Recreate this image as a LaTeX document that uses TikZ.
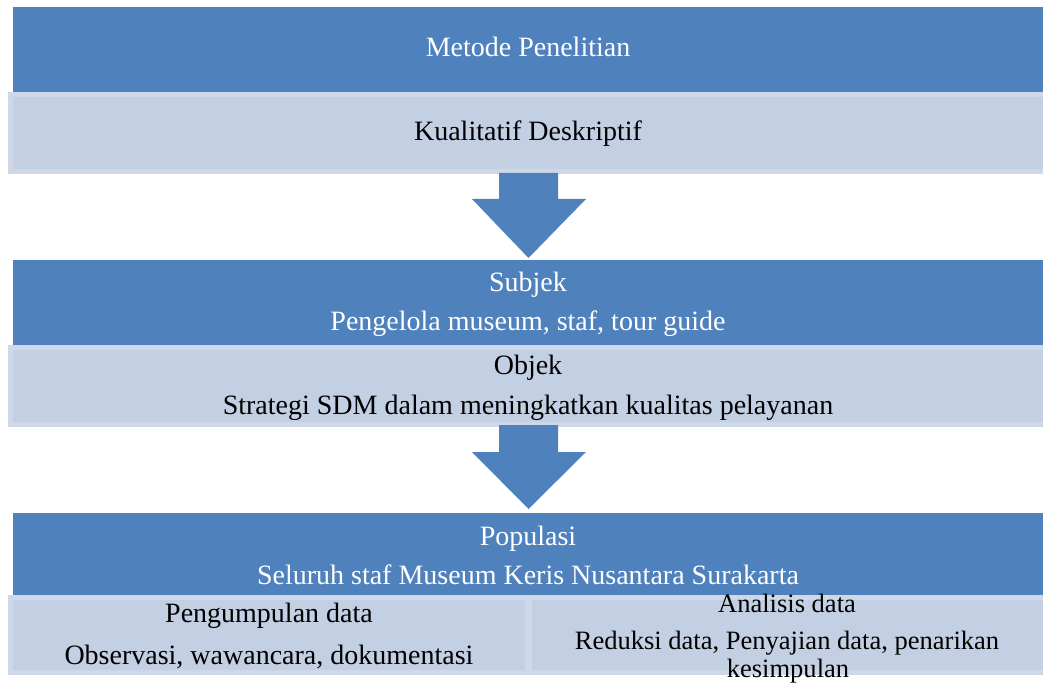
\documentclass[tikz,border=0pt]{standalone}
\usepackage{fontspec}
\setmainfont{Liberation Serif}
\definecolor{hdrblue}{HTML}{4F81BD}
\definecolor{lightfill}{HTML}{C3CFE2}
\definecolor{lightedge}{HTML}{CFD8E9}
\begin{document}
\begin{tikzpicture}[x=0.75pt,y=-0.75pt,
  txt/.style={anchor=base,inner sep=0pt,font=\fontsize{21}{25}\selectfont},
  wtxt/.style={txt,text=white},
  btxt/.style={txt,text=black},
  stxt/.style={btxt,font=\fontsize{19.9}{24}\selectfont},
  hdr/.style={fill=hdrblue,draw=none},
  arrowshape/.style={fill=hdrblue,draw=none}]
\useasboundingbox (0,0) rectangle (1043,695);
\clip (0,0) rectangle (1043,695);
\newcommand{\lightbox}[4]{%
  \fill[lightedge] (#1,#2) rectangle (#3,#4);
  \fill[lightfill] (#1+5,#2+5) rectangle (#3-5,#4-5);}
% block 1
\fill[hdr] (13,7) rectangle (1048,92);
\lightbox{8}{92}{1048}{174}
% arrow 1
\fill[arrowshape] (499,173) -- (558,173) -- (558,199) -- (586,199) -- (528.5,258) -- (472,199) -- (499,199) -- cycle;
% block 2
\fill[hdr] (13,260) rectangle (1048,345);
\lightbox{8}{345}{1048}{427}
% arrow 2
\fill[arrowshape] (499,425) -- (558,425) -- (558,452) -- (586,452) -- (528.5,509) -- (472,452) -- (499,452) -- cycle;
% block 3
\fill[hdr] (13,513) rectangle (1048,596);
\lightbox{8}{595}{530}{675}
\lightbox{527}{595}{1048}{675}
% texts
\node[wtxt] (t1) at (528,57) {Metode Penelitian};
\node[btxt] (t2) at (528,141) {Kualitatif Deskriptif};
\node[wtxt] (t3) at (528,292) {Subjek};
\node[wtxt] (t4) at (528,331) {Pengelola museum, staf, tour guide};
\node[btxt] (t5) at (528,374) {Objek};
\node[btxt] (t6) at (528,415) {Strategi SDM dalam meningkatkan kualitas pelayanan};
\node[wtxt] (t7) at (528,545) {Populasi};
\node[wtxt] (t8) at (528,584) {Seluruh staf Museum Keris Nusantara Surakarta};
\node[btxt] (t9) at (269,622) {Pengumpulan data};
\node[btxt] (t10) at (269,664) {Observasi, wawancara, dokumentasi};
\node[stxt] (t11) at (787,612) {Analisis data};
\node[stxt] (t12) at (787,649) {Reduksi data, Penyajian data, penarikan};
\node[stxt] (t13) at (788,677) {kesimpulan};
\end{tikzpicture}
\end{document}
